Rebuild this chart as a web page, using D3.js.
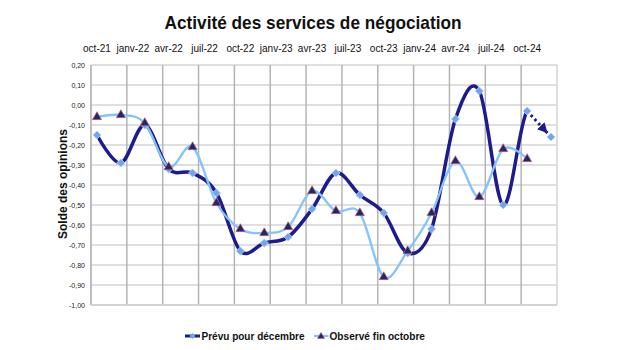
<!DOCTYPE html>
<html><head><meta charset="utf-8">
<script src="https://cdn.jsdelivr.net/npm/d3@7"></script>
<style>body{margin:0;background:#fff}svg{display:block}</style>
</head><body><svg id="c" width="630" height="350"></svg>
<script>
const title = "Activité des services de négociation";
const yTitle = "Solde des opinions";
const seriesNames = ["Prévu pour décembre", "Observé fin octobre"];
// survey dates (mid-month), every two months
const surveyDates = ["2021-10","2021-12","2022-02","2022-04","2022-06","2022-08","2022-10","2022-12",
  "2023-02","2023-04","2023-06","2023-08","2023-10","2023-12","2024-02","2024-04","2024-06","2024-08","2024-10","2024-12"];
const prevu = [-0.15,-0.29,-0.10,-0.32,-0.34,-0.44,-0.73,-0.69,-0.66,-0.52,-0.34,-0.45,-0.54,-0.74,-0.62,-0.07,0.07,-0.50,-0.03,-0.16];
const observe = [-0.06,-0.05,-0.09,-0.31,-0.21,-0.49,-0.62,-0.64,-0.61,-0.43,-0.53,-0.54,-0.86,-0.73,-0.54,-0.28,-0.46,-0.22,-0.27];
const tickLabels = ["oct-21","janv-22","avr-22","juil-22","oct-22","janv-23","avr-23","juil-23","oct-23","janv-24","avr-24","juil-24","oct-24"];
const yTicks = [0.2,0.1,0,-0.1,-0.2,-0.3,-0.4,-0.5,-0.6,-0.7,-0.8,-0.9,-1.0];

const svg = d3.select("#c");
const L = 91, R = 557, T = 65, B = 305;
const monthIdx = s => { const [y,m] = s.split("-").map(Number); return (y-2021)*12 + (m-10) + 0.5; };
const x = d3.scaleLinear().domain([0, 39]).range([L, R]);
const y = d3.scaleLinear().domain([-1, 0.2]).range([B, T]);
const fr = d3.formatLocale({decimal:",", thousands:" ", grouping:[3], currency:["","€"], minus:"-"});
const fmt = fr.format(".2f");

// horizontal gridlines
svg.append("g").selectAll("line").data(yTicks).join("line")
  .attr("x1", L).attr("x2", R).attr("y1", d => y(d)).attr("y2", d => y(d))
  .attr("stroke", "#d4d4d4").attr("stroke-width", 1.5);
// vertical gridlines (quarter boundaries)
const qBounds = d3.range(0, 40, 3);
svg.append("g").selectAll("line").data(qBounds).join("line")
  .attr("x1", d => x(d)).attr("x2", d => x(d)).attr("y1", T).attr("y2", B)
  .attr("stroke", d => d === 0 ? "#a8a8a8" : (d === 39 ? "#d4d4d4" : "#b4b4b4")).attr("stroke-width", 1.5);
svg.append("line").attr("x1", L).attr("x2", R).attr("y1", B).attr("y2", B).attr("stroke", "#cfcfcf").attr("stroke-width", 1.5);

// y tick labels
svg.append("g").selectAll("text").data(yTicks).join("text")
  .attr("x", 85).attr("y", d => y(d) + 2.5).attr("text-anchor", "end")
  .attr("font-family", "Liberation Sans, Arial, sans-serif").attr("font-size", 7).attr("fill", "#222")
  .text(d => fmt(d));

// top x labels
svg.append("g").selectAll("text").data(tickLabels).join("text")
  .attr("x", (d, i) => x(i*3 + 0.5)).attr("y", 51.5).attr("text-anchor", "middle")
  .attr("font-family", "Liberation Sans, Arial, sans-serif").attr("font-size", 10).attr("fill", "#111")
  .text(d => d);

// title
svg.append("text").attr("x", 313).attr("y", 29).attr("text-anchor", "middle")
  .attr("font-family", "Liberation Sans, Arial, sans-serif").attr("font-weight", "bold").attr("font-size", 19)
  .attr("textLength", 297).attr("lengthAdjust", "spacingAndGlyphs").attr("fill", "#111").text(title);

// y axis title
svg.append("text").attr("transform", "translate(67,184) rotate(-90)").attr("text-anchor", "middle")
  .attr("font-family", "Liberation Sans, Arial, sans-serif").attr("font-weight", "bold").attr("font-size", 13.5)
  .attr("textLength", 110).attr("lengthAdjust", "spacingAndGlyphs").attr("fill", "#111").text(yTitle);

const dark = "#1e1b8c", light = "#82c4fb", diamondFill = "#6ea7ea", triFill = "#1f2a6c";
const curve = d3.curveCardinal.tension(0);
const ptsP = prevu.map((v, i) => [x(monthIdx(surveyDates[i])), y(v)]);
const ptsO = observe.map((v, i) => [x(monthIdx(surveyDates[i])), y(v)]);
const line = d3.line().curve(curve);

const defs = svg.append("defs");
const xSplit = ptsP[prevu.length - 2][0];
defs.append("clipPath").attr("id", "cSolid").append("rect").attr("x", 0).attr("y", 0).attr("width", xSplit).attr("height", 350);
defs.append("marker").attr("id", "arr").attr("viewBox", "0 0 10 10").attr("refX", 10).attr("refY", 5)
  .attr("markerWidth", 3.4).attr("markerHeight", 3.4).attr("orient", "auto").attr("markerUnits", "strokeWidth")
  .append("path").attr("d", "M0,0L10,5L0,10Z").attr("fill", dark);

// dark series
svg.append("path").attr("d", line(ptsP)).attr("fill", "none").attr("stroke", dark).attr("stroke-width", 3.5)
  .attr("clip-path", "url(#cSolid)");
// dotted projection: last segment
const dotPts = ptsP.slice(-2);
const lastA = dotPts[0], lastB = dotPts[1];
const ang = Math.atan2(lastB[1]-lastA[1], lastB[0]-lastA[0]);
const endPt = [lastB[0] - 5*Math.cos(ang), lastB[1] - 5*Math.sin(ang)];
svg.append("path").attr("d", line([lastA, endPt])).attr("fill", "none").attr("stroke", dark).attr("stroke-width", 3)
  .attr("stroke-dasharray", "2.5,3").attr("marker-end", "url(#arr)");

const diamond = d3.symbol(d3.symbolSquare, 34);
svg.append("g").selectAll("path").data(ptsP).join("path")
  .attr("transform", d => `translate(${d[0]},${d[1]}) rotate(45)`)
  .attr("d", diamond).attr("fill", diamondFill).attr("stroke", "#b9d3f3").attr("stroke-width", 0.8);

// light series
svg.append("path").attr("d", line(ptsO)).attr("fill", "none").attr("stroke", light).attr("stroke-width", 2.3);
svg.append("g").selectAll("path").data(ptsO).join("path")
  .attr("transform", d => `translate(${d[0]},${d[1]})`)
  .attr("d", d3.symbol(d3.symbolTriangle, 36)).attr("fill", triFill).attr("stroke", "#c45a78").attr("stroke-width", 0.7);

// legend
const lg = svg.append("g").attr("font-family", "Liberation Sans, Arial, sans-serif").attr("font-weight", "bold").attr("font-size", 10.5).attr("fill", "#111");
lg.append("line").attr("x1", 185).attr("x2", 200).attr("y1", 336).attr("y2", 336).attr("stroke", dark).attr("stroke-width", 3);
lg.append("path").attr("transform", "translate(192.5,336) rotate(45)").attr("d", d3.symbol(d3.symbolSquare, 18)).attr("fill", diamondFill);
lg.append("text").attr("x", 201.5).attr("y", 339.5).attr("textLength", 103).attr("lengthAdjust", "spacingAndGlyphs").text(seriesNames[0]);
lg.append("line").attr("x1", 314).attr("x2", 328.5).attr("y1", 336).attr("y2", 336).attr("stroke", light).attr("stroke-width", 2.3);
lg.append("path").attr("transform", "translate(321,336.5)").attr("d", d3.symbol(d3.symbolTriangle, 22)).attr("fill", triFill).attr("stroke", "#c45a78").attr("stroke-width", 0.6);
lg.append("text").attr("x", 329.5).attr("y", 339.5).attr("textLength", 95.5).attr("lengthAdjust", "spacingAndGlyphs").text(seriesNames[1]);
</script></body></html>
